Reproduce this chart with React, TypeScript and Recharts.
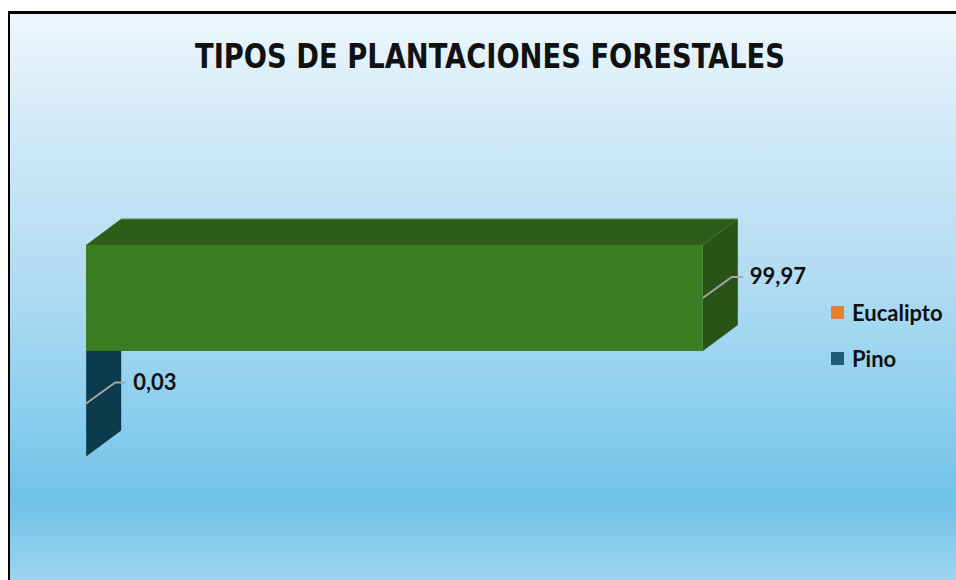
import React from 'react';
import { BarChart, Bar, XAxis, YAxis, LabelList } from 'recharts';

// chart values, top category first
const categories = ['Eucalipto', 'Pino'];
const shares = [99.97, 0.03];
const legendColors = ['#ed7d31', '#1f5c7c'];
const title = 'TIPOS DE PLANTACIONES FORESTALES';

const faceColors: Record<string, { front: string; top: string; side: string }> = {
  Eucalipto: { front: '#3a7d22', top: '#2e5d1a', side: '#2a5317' },
  Pino: { front: '#11506a', top: '#0d4157', side: '#0b3a4d' },
};

// Recharts draws the first row at the top; reversed axis + reversed rows keeps
// the visual order but paints Pino first, so Eucalipto overlaps it like Excel does
const data = categories
  .map((name, i) => ({ name, value: shares[i] }))
  .reverse();

const DEPTH_X = 35;
const DEPTH_Y = 26;

const Bar3D = (props: any) => {
  const { x, y, width, height, payload } = props;
  const c = faceColors[payload.name];
  const w = Math.max(width, 0);
  const top = `${x},${y} ${x + DEPTH_X},${y - DEPTH_Y} ${x + w + DEPTH_X},${y - DEPTH_Y} ${x + w},${y}`;
  const side = `${x + w},${y} ${x + w + DEPTH_X},${y - DEPTH_Y} ${x + w + DEPTH_X},${y + height - DEPTH_Y} ${x + w},${y + height}`;
  return (
    <g>
      <polygon points={top} fill={c.top} />
      <line
        x1={x + DEPTH_X}
        y1={y - DEPTH_Y}
        x2={x + w + DEPTH_X}
        y2={y - DEPTH_Y}
        stroke="#5f8f52"
        strokeWidth={1}
      />
      <polygon points={side} fill={c.side} />
      <rect x={x} y={y} width={w} height={height} fill={c.front} />
    </g>
  );
};

const ValueLabel = (props: any) => {
  const { x, y, width, height, value } = props;
  const sx = x + width;
  const sy = y + height / 2;
  const ex = sx + 29;
  const ey = sy - 21;
  return (
    <g>
      <polyline
        points={`${sx},${sy} ${ex},${ey} ${ex + 11},${ey}`}
        fill="none"
        stroke="#a6a6a6"
        strokeWidth={2}
      />
      <text
        x={ex + 18}
        y={ey + 7}
        fontFamily="Lato, 'Open Sans', sans-serif"
        fontWeight={700}
        fontSize={22}
        fill="#111"
      >
        {Number(value).toFixed(2).replace('.', ',')}
      </text>
    </g>
  );
};

export default function App() {
  return (
    <div style={{ position: 'fixed', left: 0, top: 0, width: 956, height: 580, background: '#fff', overflow: 'hidden' }}>
      <div
        style={{
          position: 'absolute',
          left: 8,
          top: 11,
          width: 960,
          height: 580,
          borderLeft: '2px solid #000',
          borderTop: '3px solid #000',
          background:
            'linear-gradient(to bottom, #eef7fd 0%, #d3eaf7 18%, #b3dcf2 45%, #8ccfee 68%, #70c2e8 84%, #a3d8f1 100%)',
        }}
      >
        <svg width={960} height={80} style={{ position: 'absolute', left: 0, top: 0 }}>
          <text
            x={480}
            y={54}
            textAnchor="middle"
            textLength={590}
            lengthAdjust="spacingAndGlyphs"
            fontFamily="'Liberation Sans Narrow', 'DejaVu Sans Condensed', 'DejaVu Sans', sans-serif"
            fontWeight={700}
            fontSize={34}
            fill="#111"
          >
            {title}
          </text>
        </svg>
        <div style={{ position: 'absolute', left: 0, top: 0 }}>
          <BarChart
            width={946}
            height={566}
            data={data}
            layout="vertical"
            barCategoryGap={0}
            margin={{ top: 231, left: 76, right: 253, bottom: 124 }}
          >
            <XAxis type="number" domain={[0, 100]} hide />
            <YAxis type="category" dataKey="name" reversed hide width={0} />
            <Bar dataKey="value" shape={<Bar3D />} isAnimationActive={false}>
              <LabelList dataKey="value" content={<ValueLabel />} />
            </Bar>
          </BarChart>
        </div>
        <div
          style={{
            position: 'absolute',
            left: 821,
            top: 275,
            fontFamily: "Lato, 'Open Sans', sans-serif",
            fontWeight: 700,
            fontSize: 22,
            color: '#111',
          }}
        >
          {categories.map((name, i) => (
            <div key={name} style={{ display: 'flex', alignItems: 'center', height: 46 }}>
              <span style={{ width: 13, height: 13, background: legendColors[i], marginRight: 8 }} />
              <span>{name}</span>
            </div>
          ))}
        </div>
      </div>
    </div>
  );
}
